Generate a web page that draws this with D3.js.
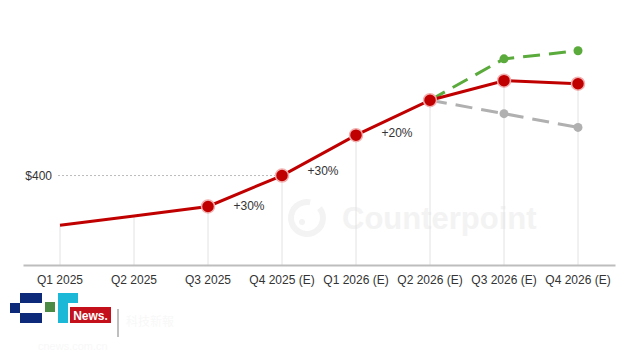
<!DOCTYPE html>
<html>
<head>
<meta charset="utf-8">
<script src="https://cdn.jsdelivr.net/npm/d3@7"></script>
<style>
  body { margin: 0; background: #fff; }
  svg { font-family: "Liberation Sans", Arial, sans-serif; }
</style>
</head>
<body>
<div id="chart"></div>
<script>
// quarters on the x axis
const quarters = ['Q1 2025', 'Q2 2025', 'Q3 2025', 'Q4 2025 (E)', 'Q1 2026 (E)', 'Q2 2026 (E)', 'Q3 2026 (E)', 'Q4 2026 (E)'];
// base case (solid red)
const baseCase = [252, 280, 308, 400, 520, 624, 682, 673];
// upside / downside scenarios (dashed), starting at Q2 2026
const upCase = [null, null, null, null, null, 624, 747, 771];
const downCase = [null, null, null, null, null, 624, 584, 543];
// quarters that carry a red marker
const markerQuarters = quarters.slice(2);
// growth annotations between two quarters
const growth = [
    { from: 'Q3 2025', to: 'Q4 2025 (E)', text: '+30%' },
    { from: 'Q4 2025 (E)', to: 'Q1 2026 (E)', text: '+30%' },
    { from: 'Q1 2026 (E)', to: 'Q2 2026 (E)', text: '+20%' }
];
const refValue = 400;
const refLabel = '$400';
const refUntil = 'Q4 2025 (E)';

const width = 640, height = 352;
const svg = d3.select('#chart').append('svg')
    .attr('width', width)
    .attr('height', height);

const x = d3.scaleBand()
    .domain(quarters)
    .range([23, 615]);
const cx = q => x(q) + x.bandwidth() / 2;

const y = d3.scaleLinear()
    .domain([134, 800])
    .range([265, 41]);

// watermark
const wm = svg.append('g');
wm.append('path')
    .attr('d', d3.arc()({ innerRadius: 13, outerRadius: 19, startAngle: 0.9, endAngle: 2 * Math.PI + 0.2 }))
    .attr('transform', 'translate(307,218)')
    .attr('fill', '#f3f3f3');
wm.append('circle')
    .attr('cx', 302).attr('cy', 222).attr('r', 3).attr('fill', '#f3f3f3');
wm.append('text')
    .attr('x', 342).attr('y', 229)
    .attr('font-size', 31).attr('font-weight', 'bold')
    .attr('fill', '#f3f3f3')
    .text('Counterpoint');

// drop lines
svg.selectAll('.drop')
    .data(quarters)
    .enter()
    .append('line')
    .attr('class', 'drop')
    .attr('x1', d => cx(d)).attr('x2', d => cx(d))
    .attr('y1', (d, i) => y(baseCase[i]))
    .attr('y2', y.range()[0])
    .attr('stroke', '#e2e2e2')
    .attr('stroke-width', 1);

// reference line
svg.append('line')
    .attr('x1', 58).attr('x2', cx(refUntil))
    .attr('y1', y(refValue)).attr('y2', y(refValue))
    .attr('stroke', '#bbb')
    .attr('stroke-width', 1)
    .attr('stroke-dasharray', '2,2');
svg.append('text')
    .attr('x', 52).attr('y', y(refValue))
    .attr('dy', '0.35em')
    .attr('text-anchor', 'end')
    .attr('font-size', 12)
    .attr('fill', '#333')
    .text(refLabel);

// x axis
const xAxis = svg.append('g')
    .attr('transform', `translate(0,${y.range()[0]})`)
    .call(d3.axisBottom(x).tickSize(0).tickPadding(10));
xAxis.select('.domain').attr('stroke', '#bdbdbd').attr('stroke-width', 2);
xAxis.selectAll('text')
    .attr('font-size', 12)
    .attr('font-family', '"Liberation Sans", Arial, sans-serif')
    .attr('fill', '#333');

const line = d3.line()
    .defined(d => d.v != null)
    .x(d => cx(d.q))
    .y(d => y(d.v));

const toPts = arr => quarters.map((q, i) => ({ q: q, v: arr[i] }));

// scenarios
svg.append('path')
    .datum(toPts(downCase))
    .attr('d', line)
    .attr('fill', 'none')
    .attr('stroke', '#b0b0b0')
    .attr('stroke-width', 3)
    .attr('stroke-dasharray', '17,9');
svg.append('path')
    .datum(toPts(upCase))
    .attr('d', line)
    .attr('fill', 'none')
    .attr('stroke', '#5aaa3c')
    .attr('stroke-width', 3)
    .attr('stroke-dasharray', '17,9');

svg.selectAll('.down-dot')
    .data(toPts(downCase).slice(6))
    .enter()
    .append('circle')
    .attr('cx', d => cx(d.q)).attr('cy', d => y(d.v))
    .attr('r', 4.5)
    .attr('fill', '#b0b0b0');
svg.selectAll('.up-dot')
    .data(toPts(upCase).slice(6))
    .enter()
    .append('circle')
    .attr('cx', d => cx(d.q)).attr('cy', d => y(d.v))
    .attr('r', 4.5)
    .attr('fill', '#5aaa3c');

// base case
svg.append('path')
    .datum(toPts(baseCase))
    .attr('d', line)
    .attr('fill', 'none')
    .attr('stroke', '#c00000')
    .attr('stroke-width', 3);

svg.selectAll('.marker')
    .data(toPts(baseCase).filter(d => markerQuarters.includes(d.q)))
    .enter()
    .append('circle')
    .attr('class', 'marker')
    .attr('cx', d => cx(d.q)).attr('cy', d => y(d.v))
    .attr('r', 6.5)
    .attr('fill', '#c00000')
    .attr('stroke', '#f3b0b0')
    .attr('stroke-width', 1.5);

// growth labels
svg.selectAll('.growth')
    .data(growth)
    .enter()
    .append('text')
    .attr('x', d => (cx(d.from) + cx(d.to)) / 2 + 4)
    .attr('y', d => (y(baseCase[quarters.indexOf(d.from)]) + y(baseCase[quarters.indexOf(d.to)])) / 2 + 15)
    .attr('dy', '0.35em')
    .attr('text-anchor', 'middle')
    .attr('font-size', 12)
    .attr('fill', '#333')
    .text(d => d.text);

// publisher logo
const logo = svg.append('g');
logo.append('rect').attr('x', 20).attr('y', 293).attr('width', 22).attr('height', 10).attr('fill', '#0d2a7a');
logo.append('rect').attr('x', 10).attr('y', 303).attr('width', 10).attr('height', 10).attr('fill', '#0d2a7a');
logo.append('rect').attr('x', 20).attr('y', 313).attr('width', 22).attr('height', 10).attr('fill', '#0d2a7a');
logo.append('rect').attr('x', 45).attr('y', 302).attr('width', 10).attr('height', 10).attr('fill', '#4a8a44');
logo.append('rect').attr('x', 58).attr('y', 293).attr('width', 20).attr('height', 10).attr('fill', '#1bb8d8');
logo.append('rect').attr('x', 58).attr('y', 303).attr('width', 10).attr('height', 20).attr('fill', '#1bb8d8');
logo.append('rect').attr('x', 70).attr('y', 307).attr('width', 41).attr('height', 16).attr('fill', '#c4101a');
logo.append('text')
    .attr('x', 90.5).attr('y', 320)
    .attr('text-anchor', 'middle')
    .attr('font-size', 12).attr('font-weight', 'bold')
    .attr('fill', '#fff')
    .text('News.');
logo.append('line')
    .attr('x1', 118).attr('x2', 118).attr('y1', 309).attr('y2', 337)
    .attr('stroke', '#aaa').attr('stroke-width', 1.5);
logo.append('text')
    .attr('x', 126).attr('y', 326)
    .attr('font-size', 12)
    .attr('font-family', '"Noto Sans CJK TC", sans-serif')
    .attr('fill', '#f8f8f8')
    .text('科技新報');
logo.append('text')
    .attr('x', 38).attr('y', 350)
    .attr('font-size', 11)
    .attr('fill', '#f8f8f8')
    .text('cnews.com.cn');
</script>
</body>
</html>
